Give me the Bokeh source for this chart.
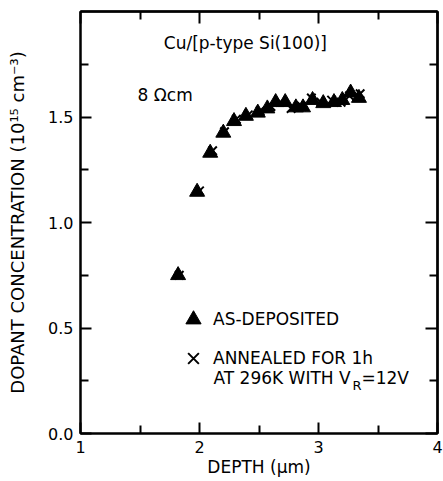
from bokeh.plotting import figure
from bokeh.models import LinearAxis, FixedTicker, Label, Legend, LegendItem, Range1d
from bokeh.embed import file_html
from bokeh.resources import INLINE

# ---- data ----
depth_as = [1.82, 1.98, 2.09, 2.20, 2.29, 2.39, 2.49, 2.57, 2.64, 2.72, 2.81, 2.87,
            2.95, 3.04, 3.13, 3.20, 3.27, 3.34]
conc_as = [0.75, 1.145, 1.33, 1.425, 1.48, 1.505, 1.52, 1.54, 1.57, 1.57, 1.545, 1.545,
           1.58, 1.565, 1.57, 1.58, 1.615, 1.59]
depth_an = [1.83, 2.00, 2.11, 2.21, 2.31, 2.41, 2.51, 2.60, 2.68, 2.77, 2.86, 2.94,
            3.02, 3.11, 3.19, 3.26, 3.35]
conc_an = [0.75, 1.15, 1.34, 1.43, 1.49, 1.51, 1.53, 1.55, 1.57, 1.54, 1.55, 1.59,
           1.57, 1.58, 1.57, 1.60, 1.61]

x_major = [1, 2, 3, 4]
x_minor = [1.5, 2.5, 3.5]
x_labels = {1: "1", 2: "2", 3: "3", 4: "4"}
y_major = [0, 0.5, 1.0, 1.5]
y_minor = [0.25, 0.75, 1.25, 1.75]
y_labels = {0: "0.0", 0.5: "0.5", 1: "1.0", 1.5: "1.5"}

FONT = "DejaVu Sans"

p = figure(width=443, height=481, x_range=Range1d(1, 4), y_range=Range1d(0, 2),
           output_backend="svg", toolbar_location=None,
           x_axis_type=None, y_axis_type=None,
           min_border_left=80, min_border_right=6, min_border_top=11, min_border_bottom=48)
p.outline_line_color = "black"
p.outline_line_width = 2
p.background_fill_color = "white"
p.border_fill_color = "white"


def style_axis(ax):
    ax.axis_line_width = 2
    ax.axis_line_color = "black"
    ax.major_tick_line_width = 2
    ax.minor_tick_line_width = 2
    ax.major_tick_out = 0
    ax.minor_tick_out = 0
    ax.major_tick_in = 11
    ax.minor_tick_in = 8
    ax.major_label_text_font = FONT
    ax.axis_label_text_font = FONT
    ax.axis_label_text_font_style = "normal"
    ax.major_label_text_color = "black"
    ax.axis_label_text_color = "black"


def tick_only_axis(ticks, length, side):
    # axis with minor ticks only (no labels drawn)
    ax = LinearAxis(ticker=FixedTicker(ticks=[], minor_ticks=ticks))
    style_axis(ax)
    ax.minor_tick_in = length
    ax.major_label_standoff = 0
    p.add_layout(ax, side)


xb = LinearAxis(ticker=FixedTicker(ticks=x_major, minor_ticks=x_minor),
                major_label_overrides=x_labels, axis_label="DEPTH (μm)")
style_axis(xb)
xb.major_label_text_font_size = "16px"
xb.major_label_standoff = 7
xb.axis_label_text_font_size = "17px"
xb.axis_label_standoff = 1
p.add_layout(xb, "below")

yl = LinearAxis(ticker=FixedTicker(ticks=y_major, minor_ticks=y_minor),
                major_label_overrides=y_labels,
                axis_label="DOPANT CONCENTRATION (10¹⁵ cm⁻³)")
style_axis(yl)
yl.major_label_text_font_size = "16px"
yl.major_label_standoff = 7
yl.axis_label_text_font_size = "18px"
yl.axis_label_standoff = 17
p.add_layout(yl, "left")

tick_only_axis(x_major, 12, "above")
tick_only_axis(x_minor, 8, "above")
tick_only_axis(y_major, 12, "right")
tick_only_axis(y_minor, 8, "right")

r_tri = p.scatter(depth_as, conc_as, marker="triangle", size=15,
                  fill_color="black", line_color="black")
r_x = p.scatter(depth_an, conc_an, marker="x", size=12,
                line_color="black", line_width=2)

legend = Legend(items=[LegendItem(label="AS-DEPOSITED", renderers=[r_tri]),
                       LegendItem(label="ANNEALED FOR 1h", renderers=[r_x])],
                location=(94, 56), glyph_width=38, glyph_height=38, spacing=1,
                padding=0, margin=0, label_standoff=1,
                border_line_alpha=0, background_fill_alpha=0,
                label_text_font=FONT, label_text_font_size="17px",
                label_text_color="black")
p.add_layout(legend, "center")


def note(x, y, text, size="17px", dx=0, dy=0):
    p.add_layout(Label(x=x, y=y, x_offset=dx, y_offset=dy, text=text, text_font=FONT,
                       text_font_size=size, text_color="black",
                       text_align="left", text_baseline="middle"))


note(1.70, 1.853, "Cu/[p-type Si(100)]")
note(1.48, 1.606, "8 Ωcm")
note(2.1176, 0.261, "AT 296K WITH V")
note(2.1176, 0.261, "R", size="13px", dx=139, dy=-7)
note(2.1176, 0.261, "=12V", dx=148)

open("out.html", "w").write(file_html(p, INLINE))
